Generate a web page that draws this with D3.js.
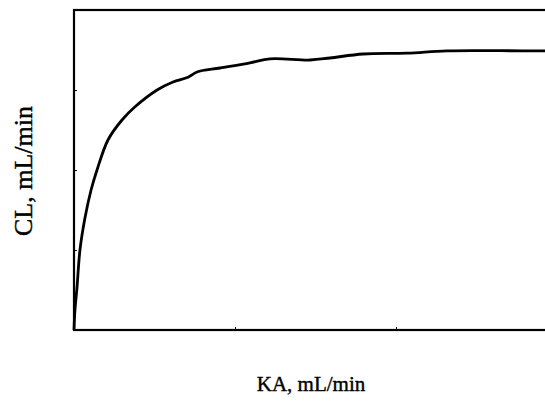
<!DOCTYPE html>
<html>
<head>
<meta charset="utf-8">
<script src="https://cdn.jsdelivr.net/npm/d3@7"></script>
<style>
  body { margin: 0; background: #fff; }
  svg { display: block; }
</style>
</head>
<body>
<script>
// curve (axis units, no numbers shown on the original)
const kaValues = [0, 0.006, 0.019, 0.037, 0.068, 0.106, 0.143, 0.211, 0.298, 0.379, 0.516, 0.615, 0.708, 0.764, 0.907, 1.093, 1.217, 1.466, 1.59, 1.795, 2.068, 2.317, 2.789, 3.0];
const clValues = [0, 0.25, 0.54, 1.0, 1.4, 1.75, 2.0, 2.375, 2.625, 2.79, 3.0, 3.1, 3.16, 3.225, 3.275, 3.34, 3.39, 3.375, 3.4, 3.45, 3.46, 3.49, 3.49, 3.49];
const xTicks = [1, 2];
const yTicks = [1, 2, 3];
const xLabel = "KA, mL/min";
const yLabel = "CL, mL/min";

const width = 545, height = 403;
const margin = { top: 10, right: -12, bottom: 73, left: 74 };

const svg = d3.select("body").append("svg")
  .attr("width", width)
  .attr("height", height);

const x = d3.scaleLinear().domain([0, 3]).range([margin.left, width - margin.right]);
const y = d3.scaleLinear().domain([0, 4]).range([height - margin.bottom, margin.top]);

// frame
svg.append("rect")
  .attr("x", x(0))
  .attr("y", y(4))
  .attr("width", x(3) - x(0))
  .attr("height", y(0) - y(4))
  .attr("fill", "none")
  .attr("stroke", "#000")
  .attr("stroke-width", 2.2);

// small inward ticks
svg.append("g")
  .attr("transform", `translate(${x(0)},0)`)
  .call(d3.axisRight(y).tickValues(yTicks).tickSize(3).tickFormat(""))
  .call(g => g.select(".domain").remove());

svg.append("g")
  .attr("transform", `translate(0,${y(0)})`)
  .call(d3.axisTop(x).tickValues(xTicks).tickSize(3).tickFormat(""))
  .call(g => g.select(".domain").remove());

const line = d3.line()
  .x((d, i) => x(d))
  .y((d, i) => y(clValues[i]))
  .curve(d3.curveCatmullRom.alpha(0.5));

svg.append("path")
  .datum(kaValues)
  .attr("d", line)
  .attr("fill", "none")
  .attr("stroke", "#000")
  .attr("stroke-width", 2.8)
  .attr("stroke-linejoin", "round");

svg.append("text")
  .attr("x", 311)
  .attr("y", 391)
  .attr("text-anchor", "middle")
  .style("font-family", "'Liberation Serif', serif")
  .style("font-size", "21px")
  .attr("stroke", "#000")
  .attr("stroke-width", 0.4)
  .text(xLabel);

svg.append("text")
  .attr("transform", `translate(32,171) rotate(-90)`)
  .attr("text-anchor", "middle")
  .style("font-family", "'Liberation Serif', serif")
  .style("font-size", "26px")
  .attr("stroke", "#000")
  .attr("stroke-width", 0.4)
  .text(yLabel);
</script>
</body>
</html>
